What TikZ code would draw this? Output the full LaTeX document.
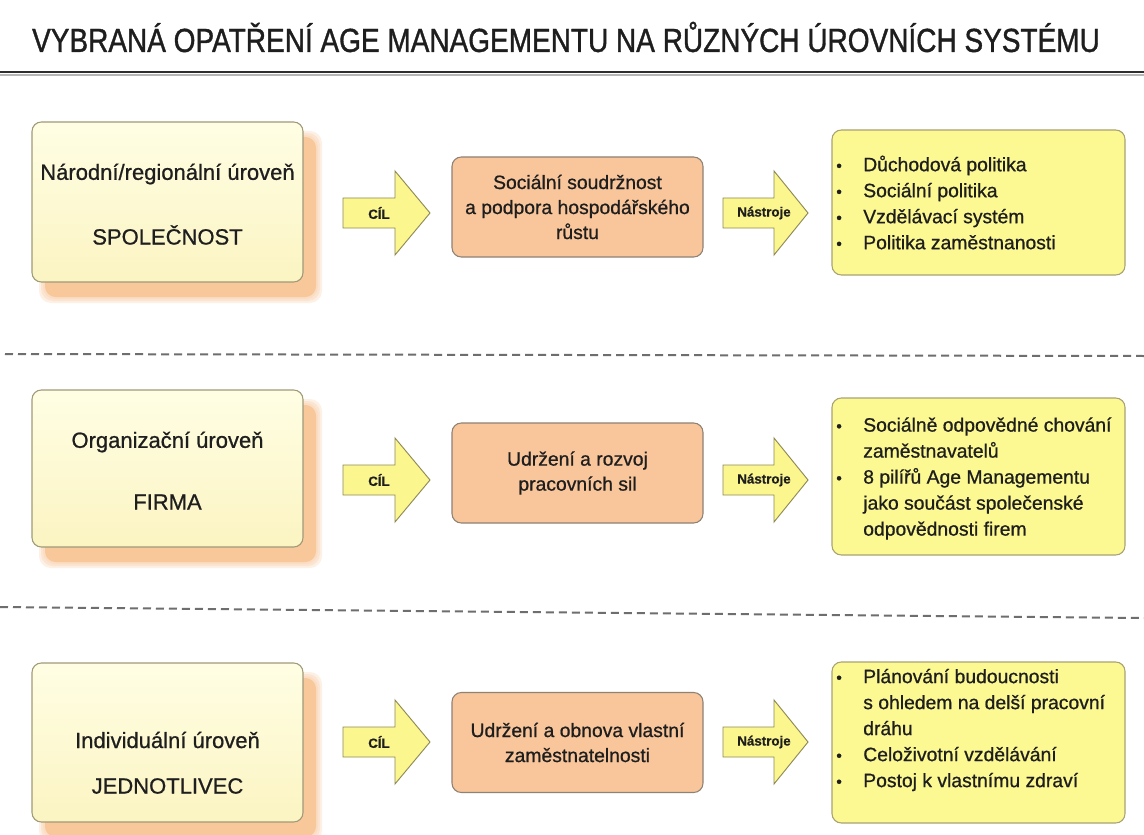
\documentclass[tikz,border=0pt]{standalone}
\usepackage{fontspec}
\setmainfont{Liberation Sans}[FakeBold=0.8]
\newfontfamily\titlefont{Liberation Sans}[FakeBold=1.2]
\definecolor{leftTop}{HTML}{FFFEE4}
\definecolor{leftBot}{HTML}{FBF4C2}
\definecolor{leftLine}{HTML}{A09A78}
\definecolor{shadowCol}{HTML}{F8C79A}
\definecolor{orangeFill}{HTML}{F9C69B}
\definecolor{orangeLine}{HTML}{8E8274}
\definecolor{rightFill}{HTML}{FCF892}
\definecolor{rightLine}{HTML}{A8A272}
\definecolor{arrowFill}{HTML}{FBF68E}
\definecolor{arrowLine}{HTML}{8F8A55}
\definecolor{txt}{HTML}{1E1E1E}
\definecolor{ruleCol}{HTML}{2E2E2E}
\definecolor{dashCol}{HTML}{6E6E6E}
\newcommand\bul{\makebox[20.25pt][l]{\raisebox{0pt}{\fontsize{12}{12}\selectfont •}}}
\newcommand\nob{\hspace*{20.25pt}}
\tikzset{
  levelbox/.style={draw=leftLine, line width=0.8pt, rounded corners=7pt,
    top color=leftTop, bottom color=leftBot, minimum width=203.25pt},
  goalbox/.style={draw=orangeLine, line width=0.8pt, rounded corners=7pt,
    fill=orangeFill, minimum width=188.25pt, minimum height=75pt,
    align=center, text=txt, font=\fontsize{14.5}{18.75}\selectfont},
  toolbox/.style={draw=rightLine, line width=0.8pt, rounded corners=7pt,
    fill=rightFill, minimum width=219.75pt},
  leveltext/.style={text=txt, font=\fontsize{16.5}{20}\selectfont, inner sep=0pt},
  tooltext/.style={text=txt, font=\fontsize{14.5}{19.5}\selectfont, align=left, inner sep=0pt, anchor=west},
  blockarrow/.style={draw=arrowLine, line width=0.7pt, fill=arrowFill, line join=miter},
  arrowlabel/.style={text=txt, font=\bfseries\fontsize{10}{12}\selectfont, inner sep=0pt},
  sepline/.style={dashCol, line width=1.5pt, dash pattern=on 6pt off 3.75pt}
}
\begin{document}
\begin{tikzpicture}[x=0.75pt,y=-0.75pt]
\useasboundingbox (0,0) rectangle (1144,834);
\fill[white] (0,0) rectangle (1144,834);

% title and rule
\node[text=txt, inner sep=0pt] (title) at (566,37)
  {\scalebox{0.84}[1]{\titlefont\fontsize{25}{28}\selectfont VYBRANÁ OPATŘENÍ AGE MANAGEMENTU NA RŮZNÝCH ÚROVNÍCH SYSTÉMU}};
\draw[ruleCol!35, line width=2pt] (0,75) -- (1144,75);
\draw[ruleCol, line width=2pt] (0,72) -- (1144,72);

% separators
\draw[sepline] (5,354) -- (1144,356);
\draw[sepline] (0,607) -- (1144,618);

% shadows behind level boxes
\foreach \t/\b in {122/282, 390/547, 663/822}{
  \foreach \k in {6,4,2}{
    \fill[shadowCol, opacity=0.25, rounded corners=9pt]
      (45-\k,\t+15-\k) rectangle (316+\k,\b+15+\k);
  }
  \fill[shadowCol, rounded corners=8pt] (45,\t+15) rectangle (316,\b+15);
}

% ---- row 1
\node[levelbox, minimum height=120pt] (lev1) at (167.5,202) {};
\node[leveltext] (lev1a) at (167.5,174) {Národní/regionální úroveň};
\node[leveltext] (lev1b) at (167.5,235) {SPOLEČNOST};
\draw[blockarrow] (343,198) -- (395,198) -- (395,171) -- (430,213) -- (395,255) -- (395,228) -- (343,228) -- cycle;
\node[arrowlabel] (cil1) at (379,213) {CÍL};
\node[goalbox] (goal1) at (577.5,207) {Sociální soudržnost\\a podpora hospodářského\\růstu};
\draw[blockarrow] (723,198) -- (774,198) -- (774,171) -- (808,213) -- (774,255) -- (774,228) -- (723,228) -- cycle;
\node[arrowlabel] (nas1) at (764,213) {Nástroje};
\node[toolbox, minimum height=108.75pt] (tool1) at (978.5,202.5) {};
\node[tooltext] (tool1t) at (836,202.5) {\bul Důchodová politika\\
\bul Sociální politika\\
\bul Vzdělávací systém\\
\bul Politika zaměstnanosti};

% ---- row 2
\node[levelbox, minimum height=117.75pt] (lev2) at (167.5,468.5) {};
\node[leveltext] (lev2a) at (167.5,442) {Organizační úroveň};
\node[leveltext] (lev2b) at (167.5,502) {FIRMA};
\draw[blockarrow] (343,465) -- (395,465) -- (395,438) -- (430,480) -- (395,522) -- (395,495) -- (343,495) -- cycle;
\node[arrowlabel] (cil2) at (379,480) {CÍL};
\node[goalbox] (goal2) at (577.5,473) {Udržení a rozvoj\\pracovních sil};
\draw[blockarrow] (723,465) -- (774,465) -- (774,438) -- (808,480) -- (774,522) -- (774,495) -- (723,495) -- cycle;
\node[arrowlabel] (nas2) at (764,480) {Nástroje};
\node[toolbox, minimum height=117.75pt] (tool2) at (978.5,476.5) {};
\node[tooltext] (tool2t) at (836,478.5) {\bul Sociálně odpovědné chování\\
\nob zaměstnavatelů\\
\bul 8 pilířů Age Managementu\\
\nob jako součást společenské\\
\nob odpovědnosti firem};

% ---- row 3
\node[levelbox, minimum height=119.25pt] (lev3) at (167.5,742.5) {};
\node[leveltext] (lev3a) at (167.5,740) {Individuální úroveň};
\node[leveltext] (lev3b) at (167.5,786) {JEDNOTLIVEC};
\draw[blockarrow] (343,727) -- (395,727) -- (395,700) -- (430,742) -- (395,784) -- (395,757) -- (343,757) -- cycle;
\node[arrowlabel] (cil3) at (379,742) {CÍL};
\node[goalbox] (goal3) at (577.5,742.5) {Udržení a obnova vlastní\\zaměstnatelnosti};
\draw[blockarrow] (723,727) -- (774,727) -- (774,700) -- (808,742) -- (774,784) -- (774,757) -- (723,757) -- cycle;
\node[arrowlabel] (nas3) at (764,742) {Nástroje};
\node[toolbox, minimum height=120.75pt] (tool3) at (978.5,742.5) {};
\node[tooltext] (tool3t) at (836,730) {\bul Plánování budoucnosti\\
\nob s ohledem na delší pracovní\\
\nob dráhu\\
\bul Celoživotní vzdělávání\\
\bul Postoj k vlastnímu zdraví};
\end{tikzpicture}
\end{document}
